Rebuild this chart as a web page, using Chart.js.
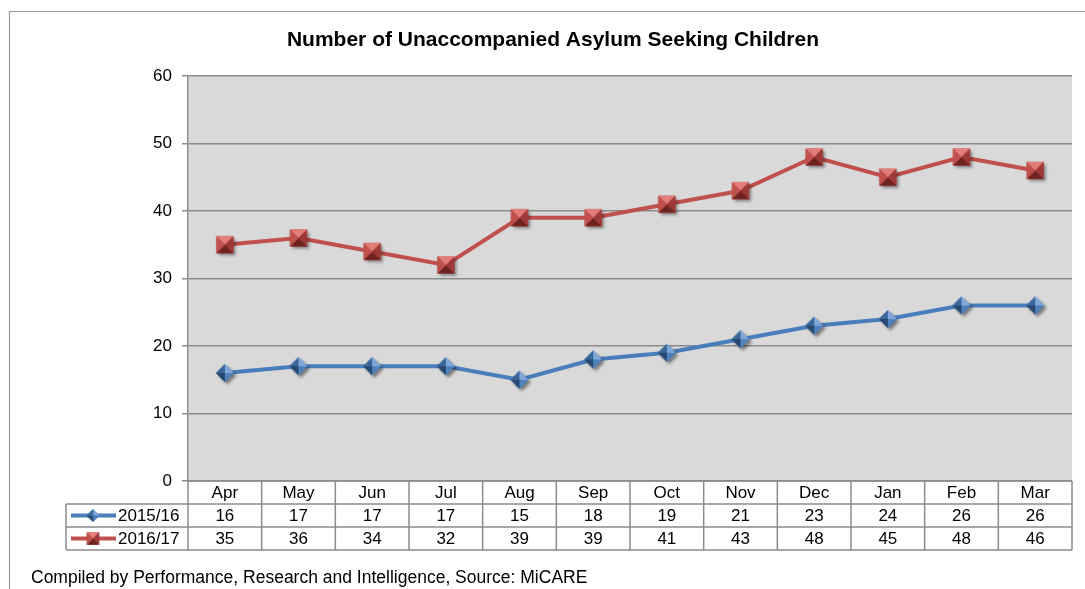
<!DOCTYPE html>
<html>
<head>
<meta charset="utf-8">
<script src="https://cdn.jsdelivr.net/npm/chart.js@4"></script>
<style>
  html, body { margin: 0; background: #fff; }
  #wrap { width: 1085px; height: 589px; }
</style>
</head>
<body>
<div id="wrap"><canvas id="uasc"></canvas></div>
<script>
const months = ["Apr", "May", "Jun", "Jul", "Aug", "Sep", "Oct", "Nov", "Dec", "Jan", "Feb", "Mar"];
const series1516 = [16, 17, 17, 17, 15, 18, 19, 21, 23, 24, 26, 26];
const series1617 = [35, 36, 34, 32, 39, 39, 41, 43, 48, 45, 48, 46];
const seriesNames = ["2015/16", "2016/17"];
const yMin = 0, yMax = 60, yStep = 10;
const titleText = "Number of Unaccompanied Asylum Seeking Children";
const footerText = "Compiled by Performance, Research and Intelligence, Source: MiCARE";

const BLUE = "#4a7ebb";
const RED = "#c0504d";
const GRID = "#8c8c8c";
const FONT = "Arial, 'Liberation Sans', sans-serif";
const TEXT_SIZE = 17;

// bevelled "pyramid" marker, drawn once into a small canvas
function pyramidMarker(r, shape, shades, shadow) {
  const pad = shadow ? 6 : 1;
  const w = Math.ceil(2 * r + 2 * pad);
  const cv = document.createElement("canvas");
  cv.width = w; cv.height = w;
  const g = cv.getContext("2d");
  const c = w / 2;
  let pts;
  if (shape === "diamond") {
    pts = [[c, c - r], [c + r, c], [c, c + r], [c - r, c]];
  } else {
    const h = r * 0.95;
    pts = [[c - h, c - h], [c + h, c - h], [c + h, c + h], [c - h, c + h]];
  }
  g.beginPath();
  pts.forEach((p, i) => (i ? g.lineTo(p[0], p[1]) : g.moveTo(p[0], p[1])));
  g.closePath();
  if (shadow) {
    g.shadowColor = "rgba(0,0,0,0.45)";
    g.shadowBlur = 3;
    g.shadowOffsetX = 2.5;
    g.shadowOffsetY = 2.5;
  }
  g.fillStyle = shades[1];
  g.fill();
  g.shadowColor = "transparent";
  // four facets: top, right, bottom, left
  const facetShade = shape === "diamond"
    ? [shades[0], shades[1], shades[3], shades[2]]
    : [shades[0], shades[2], shades[3], shades[1]];
  for (let i = 0; i < 4; i++) {
    const a = pts[i], b = pts[(i + 1) % 4];
    g.beginPath();
    g.moveTo(a[0], a[1]);
    g.lineTo(b[0], b[1]);
    g.lineTo(c, c);
    g.closePath();
    g.fillStyle = facetShade[i];
    g.fill();
  }
  return cv;
}

const blueShades = ["#7fa7d9", "#4f81bd", "#3b6699", "#274870"];
const redShades = ["#e27d7a", "#c0504d", "#9c3936", "#6e2220"];
const blueMarker = pyramidMarker(9, "diamond", blueShades, true);
const redMarker = pyramidMarker(9, "square", redShades, true);
const blueKey = pyramidMarker(6.5, "diamond", blueShades, false);
const redKey = pyramidMarker(6.5, "square", redShades, false);

// grey plot background
const plotBackground = {
  id: "plotBackground",
  beforeDraw(chart) {
    const { ctx, chartArea: a } = chart;
    ctx.save();
    ctx.fillStyle = "#d9d9d9";
    ctx.fillRect(a.left, a.top, a.right - a.left, a.bottom - a.top);
    ctx.restore();
  }
};

// title, outer frame, data table under the axis and the source note
const tableAndText = {
  id: "tableAndText",
  afterDraw(chart) {
    const { ctx, chartArea: a } = chart;
    const x = chart.scales.x;
    const cellW = (a.right - a.left) / months.length;
    const rowH = 23;
    const keyLeft = 66;
    const rows = [a.bottom, a.bottom + rowH, a.bottom + 2 * rowH, a.bottom + 3 * rowH];

    ctx.save();
    // outer frame
    ctx.strokeStyle = "#999";
    ctx.lineWidth = 1.2;
    ctx.beginPath();
    ctx.moveTo(9.5, chart.height);
    ctx.lineTo(9.5, 11.5);
    ctx.lineTo(chart.width, 11.5);
    ctx.stroke();

    // title
    ctx.fillStyle = "#000";
    ctx.font = "bold 21px " + FONT;
    ctx.textAlign = "center";
    ctx.textBaseline = "middle";
    ctx.fillText(titleText, 553, 40);

    // table grid
    ctx.strokeStyle = GRID;
    ctx.lineWidth = 1.5;
    ctx.beginPath();
    ctx.moveTo(a.left, rows[0]); ctx.lineTo(a.right, rows[0]);
    for (let r = 1; r < 4; r++) {
      ctx.moveTo(keyLeft, rows[r]); ctx.lineTo(a.right, rows[r]);
    }
    ctx.moveTo(keyLeft, rows[1]); ctx.lineTo(keyLeft, rows[3]);
    for (let i = 0; i <= months.length; i++) {
      const bx = x.getPixelForValue(i) - cellW / 2;
      ctx.moveTo(bx, rows[0]); ctx.lineTo(bx, rows[3]);
    }
    ctx.stroke();

    // cell text
    ctx.font = TEXT_SIZE + "px " + FONT;
    ctx.fillStyle = "#000";
    ctx.textAlign = "center";
    const series = [series1516, series1617];
    months.forEach((m, i) => {
      const cx = x.getPixelForValue(i);
      ctx.fillText(m, cx, (rows[0] + rows[1]) / 2 + 1);
      series.forEach((s, k) => ctx.fillText(String(s[i]), cx, (rows[k + 1] + rows[k + 2]) / 2 + 1));
    });

    // legend keys in the row headers
    const keys = [[BLUE, blueKey], [RED, redKey]];
    keys.forEach(([col, mk], k) => {
      const cy = (rows[k + 1] + rows[k + 2]) / 2;
      ctx.strokeStyle = col;
      ctx.lineWidth = 4;
      ctx.beginPath();
      ctx.moveTo(71, cy); ctx.lineTo(116, cy);
      ctx.stroke();
      ctx.drawImage(mk, 93 - mk.width / 2, cy - mk.height / 2);
      ctx.textAlign = "left";
      ctx.fillText(seriesNames[k], 118, cy + 1);
    });

    // source note
    ctx.font = "17.5px " + FONT;
    ctx.textAlign = "left";
    ctx.fillText(footerText, 31, 578);
    ctx.restore();
  }
};

new Chart(document.getElementById("uasc"), {
  type: "line",
  data: {
    labels: months,
    datasets: [
      {
        label: seriesNames[0],
        data: series1516,
        borderColor: BLUE,
        backgroundColor: BLUE,
        borderWidth: 4,
        pointStyle: blueMarker,
        pointRadius: 9,
        tension: 0
      },
      {
        label: seriesNames[1],
        data: series1617,
        borderColor: RED,
        backgroundColor: RED,
        borderWidth: 4,
        pointStyle: redMarker,
        pointRadius: 9,
        tension: 0
      }
    ]
  },
  options: {
    responsive: true,
    maintainAspectRatio: false,
    animation: false,
    layout: { padding: { top: 76, bottom: 108, left: 0, right: 12 } },
    plugins: {
      legend: { display: false },
      title: { display: false },
      tooltip: { enabled: false }
    },
    scales: {
      x: {
        type: "category",
        offset: true,
        display: false
      },
      y: {
        min: yMin,
        max: yMax,
        ticks: {
          stepSize: yStep,
          color: "#000",
          padding: 10,
          font: { family: FONT, size: TEXT_SIZE }
        },
        grid: { color: GRID, lineWidth: 1.5, tickLength: 6 },
        border: { color: GRID, width: 1.5 },
        afterFit(scale) { scale.width = 188; }
      }
    }
  },
  plugins: [plotBackground, tableAndText]
});
</script>
</body>
</html>
